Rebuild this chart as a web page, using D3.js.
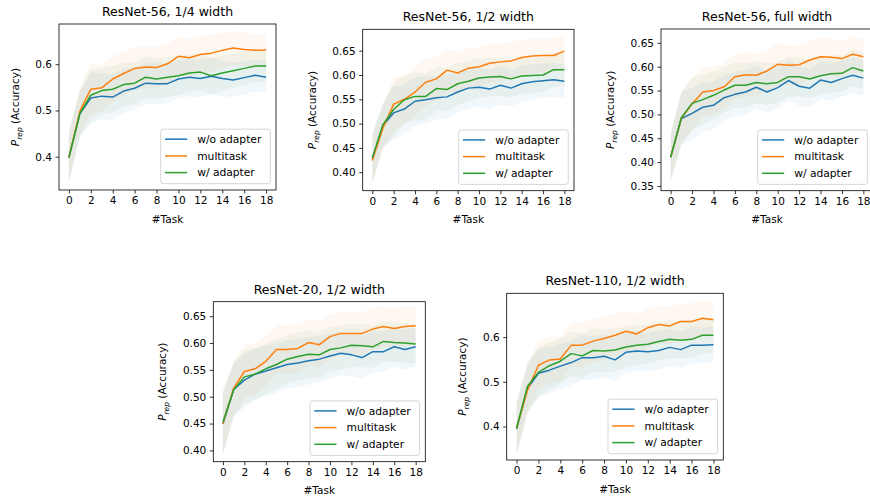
<!DOCTYPE html>
<html>
<head>
<meta charset="utf-8">
<script src="https://cdn.jsdelivr.net/npm/d3@7"></script>
<style>
  body { margin: 0; background: #fff; }
  svg { display: block; font-family: "DejaVu Sans", sans-serif; }
</style>
</head>
<body>
<svg id="chart" width="870" height="502"></svg>
<script>
const tasks = [0, 1, 2, 3, 4, 5, 6, 7, 8, 9, 10, 11, 12, 13, 14, 15, 16, 17, 18];
const xTicks = [0, 2, 4, 6, 8, 10, 12, 14, 16, 18];
const seriesNames = ["w/o adapter", "multitask", "w/ adapter"];
const colors = ["#1f77b4", "#ff7f0e", "#2ca02c"];

// ResNet-56, 1/4 width
const r56q_wo = [0.398, 0.493, 0.527, 0.531, 0.529, 0.542, 0.548, 0.559, 0.558, 0.558, 0.568, 0.572, 0.569, 0.574, 0.569, 0.566, 0.571, 0.576, 0.572];
const r56q_mt = [0.398, 0.498, 0.546, 0.549, 0.568, 0.580, 0.591, 0.594, 0.593, 0.601, 0.617, 0.614, 0.621, 0.624, 0.630, 0.635, 0.632, 0.630, 0.631];
const r56q_w  = [0.398, 0.493, 0.533, 0.543, 0.546, 0.556, 0.559, 0.572, 0.568, 0.572, 0.575, 0.581, 0.583, 0.575, 0.581, 0.586, 0.591, 0.596, 0.596];
const r56q_sd = [0.055, 0.050, 0.055, 0.050, 0.050, 0.047, 0.046, 0.045, 0.045, 0.043, 0.042, 0.041, 0.040, 0.040, 0.038, 0.037, 0.036, 0.035, 0.034];

// ResNet-56, 1/2 width
const r56h_wo = [0.428, 0.496, 0.522, 0.530, 0.546, 0.549, 0.553, 0.555, 0.565, 0.573, 0.575, 0.571, 0.579, 0.573, 0.582, 0.586, 0.588, 0.590, 0.587];
const r56h_mt = [0.424, 0.491, 0.540, 0.550, 0.565, 0.585, 0.592, 0.610, 0.604, 0.614, 0.617, 0.624, 0.627, 0.629, 0.636, 0.639, 0.640, 0.640, 0.649];
const r56h_w  = [0.429, 0.498, 0.529, 0.549, 0.556, 0.556, 0.572, 0.570, 0.582, 0.587, 0.594, 0.596, 0.597, 0.592, 0.598, 0.599, 0.600, 0.611, 0.611];
const r56h_sd = [0.050, 0.045, 0.055, 0.050, 0.050, 0.048, 0.045, 0.045, 0.043, 0.042, 0.040, 0.040, 0.039, 0.038, 0.037, 0.036, 0.035, 0.035, 0.034];

// ResNet-56, full width
const r56f_wo = [0.410, 0.491, 0.502, 0.515, 0.519, 0.535, 0.542, 0.547, 0.557, 0.547, 0.556, 0.571, 0.559, 0.555, 0.572, 0.567, 0.575, 0.582, 0.576];
const r56f_mt = [0.410, 0.491, 0.522, 0.547, 0.550, 0.558, 0.579, 0.583, 0.582, 0.591, 0.605, 0.603, 0.604, 0.614, 0.621, 0.620, 0.617, 0.626, 0.621];
const r56f_w  = [0.410, 0.493, 0.523, 0.531, 0.540, 0.551, 0.561, 0.561, 0.567, 0.564, 0.567, 0.579, 0.579, 0.574, 0.581, 0.585, 0.586, 0.598, 0.591];
const r56f_sd = [0.050, 0.055, 0.055, 0.052, 0.050, 0.048, 0.047, 0.046, 0.045, 0.044, 0.043, 0.042, 0.041, 0.040, 0.040, 0.039, 0.038, 0.038, 0.037];

// ResNet-20, 1/2 width
const r20h_wo = [0.449, 0.513, 0.531, 0.542, 0.548, 0.554, 0.560, 0.563, 0.567, 0.570, 0.576, 0.581, 0.578, 0.573, 0.584, 0.584, 0.593, 0.588, 0.593];
const r20h_mt = [0.450, 0.516, 0.547, 0.552, 0.566, 0.588, 0.588, 0.590, 0.601, 0.597, 0.612, 0.618, 0.618, 0.618, 0.626, 0.631, 0.627, 0.631, 0.632];
const r20h_w  = [0.453, 0.513, 0.537, 0.542, 0.552, 0.560, 0.570, 0.575, 0.579, 0.578, 0.588, 0.591, 0.596, 0.595, 0.593, 0.603, 0.601, 0.600, 0.598];
const r20h_sd = [0.058, 0.050, 0.050, 0.048, 0.047, 0.046, 0.045, 0.045, 0.044, 0.043, 0.042, 0.041, 0.040, 0.040, 0.039, 0.038, 0.037, 0.037, 0.036];

// ResNet-110, 1/2 width
const r110h_wo = [0.394, 0.485, 0.519, 0.526, 0.535, 0.543, 0.554, 0.554, 0.557, 0.549, 0.566, 0.569, 0.567, 0.570, 0.577, 0.572, 0.582, 0.582, 0.583];
const r110h_mt = [0.396, 0.481, 0.537, 0.549, 0.551, 0.582, 0.582, 0.591, 0.597, 0.604, 0.613, 0.607, 0.621, 0.628, 0.625, 0.635, 0.635, 0.642, 0.639];
const r110h_w  = [0.396, 0.490, 0.521, 0.536, 0.546, 0.563, 0.558, 0.570, 0.569, 0.571, 0.578, 0.582, 0.584, 0.590, 0.595, 0.593, 0.595, 0.604, 0.604];
const r110h_sd = [0.058, 0.055, 0.055, 0.052, 0.050, 0.050, 0.050, 0.049, 0.048, 0.048, 0.046, 0.045, 0.044, 0.043, 0.042, 0.041, 0.040, 0.040, 0.040];

const titles = ["ResNet-56, 1/4 width", "ResNet-56, 1/2 width", "ResNet-56, full width", "ResNet-20, 1/2 width", "ResNet-110, 1/2 width"];
const yTicksA = [0.4, 0.5, 0.6];
const yTicksB = [0.40, 0.45, 0.50, 0.55, 0.60, 0.65];
const yTicksC = [0.35, 0.40, 0.45, 0.50, 0.55, 0.60, 0.65];

const panels = [
  { title: titles[0], series: [r56q_wo, r56q_mt, r56q_w], sd: r56q_sd, yDomain: [0.328, 0.687], yTicks: yTicksA, fmt: ".1f", box: [59, 24, 276, 190] },
  { title: titles[1], series: [r56h_wo, r56h_mt, r56h_w], sd: r56h_sd, yDomain: [0.362, 0.694], yTicks: yTicksB, fmt: ".2f", box: [362.7, 29.3, 574, 190.7] },
  { title: titles[2], series: [r56f_wo, r56f_mt, r56f_w], sd: r56f_sd, yDomain: [0.340, 0.679], yTicks: yTicksC, fmt: ".2f", box: [661, 29, 873, 190.7] },
  { title: titles[3], series: [r20h_wo, r20h_mt, r20h_w], sd: r20h_sd, yDomain: [0.379, 0.677], yTicks: yTicksB, fmt: ".2f", box: [213.3, 301.7, 425.3, 461.7] },
  { title: titles[4], series: [r110h_wo, r110h_mt, r110h_w], sd: r110h_sd, yDomain: [0.325, 0.698], yTicks: yTicksA, fmt: ".1f", box: [506.7, 293.3, 723.3, 460] }
];

const svg = d3.select("#chart");
const fontSize = 10.5;
const legendFont = 10.7;

panels.forEach((p) => {
  const [x0, y0, x1, y1] = p.box;
  const x = d3.scaleLinear().domain([-0.9, 18.9]).range([x0, x1]);
  const y = d3.scaleLinear().domain(p.yDomain).range([y1, y0]);
  const g = svg.append("g");

  // std bands first, then the mean lines
  p.series.forEach((vals, i) => {
    const area = d3.area()
      .x((d, k) => x(tasks[k]))
      .y0((d, k) => y(d - p.sd[k]))
      .y1((d, k) => y(d + p.sd[k]));
    g.append("path").datum(vals).attr("fill", colors[i]).attr("fill-opacity", 0.06).attr("d", area);
  });
  p.series.forEach((vals, i) => {
    const line = d3.line().x((d, k) => x(tasks[k])).y((d) => y(d));
    g.append("path").datum(vals).attr("fill", "none").attr("stroke", colors[i])
      .attr("stroke-width", 1.5).attr("stroke-linejoin", "round").attr("d", line);
  });

  // axes
  const xAxis = g.append("g").attr("transform", `translate(0,${y1})`)
    .call(d3.axisBottom(x).tickValues(xTicks).tickSize(3.5).tickPadding(3.5).tickSizeOuter(0));
  const yAxis = g.append("g").attr("transform", `translate(${x0},0)`)
    .call(d3.axisLeft(y).tickValues(p.yTicks).tickFormat(d3.format(p.fmt)).tickSize(3.5).tickPadding(3.5).tickSizeOuter(0));
  [xAxis, yAxis].forEach((a) => {
    a.select(".domain").remove();
    a.selectAll("line").attr("stroke", "#000").attr("stroke-width", 0.8);
    a.selectAll("text").attr("fill", "#000").style("font-size", fontSize + "px").style("font-family", "DejaVu Sans");
  });

  g.append("rect").attr("x", x0).attr("y", y0).attr("width", x1 - x0).attr("height", y1 - y0)
    .attr("fill", "none").attr("stroke", "#000").attr("stroke-width", 0.8);

  // labels
  g.append("text").attr("x", (x0 + x1) / 2).attr("y", y0 - 8).attr("text-anchor", "middle")
    .style("font-size", "12.5px").text(p.title);
  g.append("text").attr("x", (x0 + x1) / 2).attr("y", y1 + 32.7).attr("text-anchor", "middle")
    .style("font-size", fontSize + "px").text("#Task");

  let tickW = 0;
  yAxis.selectAll("text").each(function () { tickW = Math.max(tickW, this.getComputedTextLength()); });
  const lx = x0 - tickW - 7 - 16.5;
  const ly = (y0 + y1) / 2;
  const yl = g.append("text").attr("transform", `translate(${lx},${ly}) rotate(-90)`)
    .attr("text-anchor", "middle").style("font-size", fontSize + "px");
  yl.append("tspan").attr("font-style", "italic").text("P");
  yl.append("tspan").attr("font-style", "italic").attr("font-size", "7.5px").attr("dy", 2.8).text("rep");
  yl.append("tspan").attr("dy", -2.8).text(" (Accuracy)");

  // legend, lower right
  const leg = g.append("g");
  const rows = seriesNames.map((name, i) => {
    const ry = 10 + i * 16.7;
    const t = leg.append("text").attr("x", 36.5).attr("y", ry).attr("dy", "0.35em")
      .style("font-size", legendFont + "px").text(name);
    leg.append("line").attr("x1", 4.3).attr("x2", 26.5).attr("y1", ry).attr("y2", ry)
      .attr("stroke", colors[i]).attr("stroke-width", 1.5);
    return t.node().getComputedTextLength();
  });
  const lw = 36.5 + d3.max(rows) + 9;
  const lh = 54.5;
  leg.insert("rect", ":first-child").attr("width", lw).attr("height", lh).attr("rx", 2.5)
    .attr("fill", "#fff").attr("fill-opacity", 0.8).attr("stroke", "#ccc").attr("stroke-width", 0.8);
  leg.attr("transform", `translate(${x1 - 5.7 - lw},${y1 - 6.3 - lh})`);
});
</script>
</body>
</html>
